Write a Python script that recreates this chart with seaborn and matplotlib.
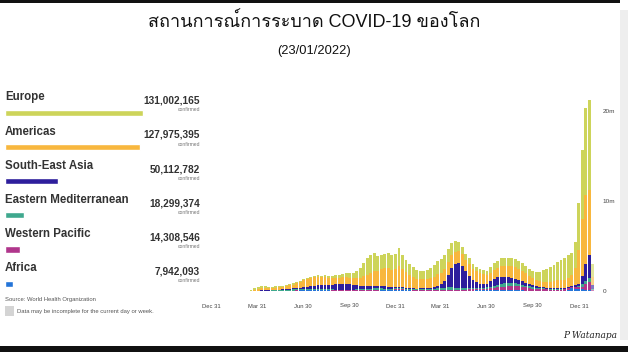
import numpy as np
import pandas as pd
import matplotlib
matplotlib.use("Agg")
import matplotlib.pyplot as plt
from matplotlib import font_manager, ft2font
from matplotlib.patches import Rectangle
import seaborn as sns

# weekly confirmed cases per WHO region (thousands), weeks starting Mon 2019-12-30
europe = [0, 0, 0, 0, 0, 0, 0, 0, 1, 5, 25, 75, 170, 230,
          235, 225, 200, 170, 150, 135, 125, 120, 120, 125, 130, 135, 135,
          135, 140, 150, 165, 180, 200, 220, 240, 280, 320, 380, 440, 500,
          600, 800, 1050, 1450, 1800, 2000, 1950, 1700, 1550, 1600, 1700, 1600, 1650,
          1950, 1550, 1300, 1150, 1050, 950, 900, 950, 1050, 1150, 1300, 1450, 1500,
          1500, 1450, 1350, 1250, 1050, 850, 700, 600, 500, 420, 380, 380, 450,
          600, 750, 850, 850, 850, 880, 900, 950, 920, 880, 830, 800, 820,
          900, 1050, 1250, 1450, 1650, 1850, 2050, 2300, 2400, 2450, 2500, 2900, 5300,
          7600, 9700, 9950, 1400]
americas = [0, 0, 0, 0, 0, 0, 0, 0, 0, 0.3, 2, 20, 85, 190,
            230, 220, 220, 230, 240, 250, 290, 320, 380, 430, 520, 650, 780,
            850, 920, 950, 930, 880, 860, 800, 760, 740, 700, 720, 730, 740,
            760, 800, 880, 1050, 1250, 1450, 1650, 1650, 1850, 2000, 2100, 1900, 2000,
            2400, 2100, 1800, 1500, 1300, 1100, 1000, 1000, 1000, 1050, 1150, 1250, 1250,
            1300, 1400, 1400, 1350, 1300, 1250, 1250, 1300, 1200, 1250, 1200, 1150, 1000,
            950, 950, 1000, 1200, 1250, 1300, 1300, 1300, 1200, 1150, 1050, 900, 800,
            700, 650, 620, 620, 650, 750, 850, 850, 900, 1050, 1150, 1900, 3700,
            6400, 7600, 7300, 900]
se_asia = [0, 0, 0, 0, 0, 0, 0, 0, 0, 0.1, 0.3, 1, 3, 6,
           12, 18, 22, 30, 40, 50, 60, 75, 90, 105, 120, 150, 180,
           220, 270, 340, 400, 440, 480, 500, 540, 580, 630, 660, 620, 570,
           520, 460, 410, 360, 340, 310, 300, 290, 270, 240, 200, 170, 150,
           130, 120, 110, 100, 100, 95, 100, 110, 120, 140, 200, 300, 450,
           800, 1400, 2200, 2600, 2750, 2500, 1900, 1400, 950, 650, 500, 420, 390,
           600, 800, 850, 800, 700, 600, 500, 450, 430, 400, 330, 280, 230,
           180, 150, 130, 120, 110, 105, 100, 95, 95, 95, 100, 150, 300,
           900, 1900, 2500, 400]
east_med = [0, 0, 0, 0, 0, 0, 0, 0, 0.1, 1, 5, 8, 15, 22,
            26, 30, 38, 45, 55, 65, 80, 95, 110, 125, 135, 130, 120,
            115, 110, 105, 95, 85, 80, 78, 80, 85, 88, 90, 92, 95,
            100, 110, 125, 140, 155, 170, 180, 175, 160, 140, 125, 110, 100,
            95, 90, 85, 85, 90, 95, 105, 120, 135, 150, 170, 195, 220,
            250, 270, 270, 250, 220, 180, 150, 140, 130, 125, 125, 135, 150,
            180, 220, 280, 330, 380, 400, 390, 350, 300, 250, 210, 180, 150,
            130, 110, 100, 90, 80, 75, 72, 70, 70, 70, 75, 85, 130,
            230, 380, 450, 80]
west_pac = [0, 0.05, 0.1, 2, 14, 25, 22, 6, 3, 2, 3, 5, 9, 12,
            13, 11, 7, 5, 5, 6, 6, 6, 7, 8, 10, 12, 15,
            18, 22, 28, 35, 40, 42, 40, 36, 33, 32, 30, 28, 27,
            28, 30, 32, 35, 38, 42, 50, 55, 58, 62, 68, 70, 72,
            80, 78, 70, 60, 50, 42, 38, 40, 42, 45, 50, 60, 70,
            80, 90, 95, 100, 110, 120, 130, 135, 120, 110, 105, 110, 130,
            160, 200, 260, 310, 360, 410, 450, 470, 450, 400, 340, 280, 230,
            200, 170, 160, 150, 140, 140, 140, 135, 130, 130, 125, 130, 170,
            320, 600, 900, 150]
africa = [0, 0, 0, 0, 0, 0, 0, 0, 0, 0.05, 0.3, 1, 3, 5,
          6, 8, 10, 13, 16, 20, 24, 28, 35, 45, 55, 65, 75,
          90, 100, 110, 105, 90, 75, 65, 55, 48, 42, 38, 35, 32,
          32, 33, 35, 38, 40, 45, 50, 55, 60, 70, 80, 95, 110,
          115, 110, 90, 70, 55, 45, 40, 35, 33, 32, 32, 32, 32,
          32, 30, 30, 30, 30, 32, 35, 42, 55, 70, 90, 120, 145,
          160, 155, 145, 130, 120, 110, 100, 90, 80, 70, 55, 45, 38,
          30, 25, 22, 20, 18, 17, 16, 20, 50, 150, 280, 270, 230,
          180, 140, 100, 15]

regions = ["Europe", "Americas", "South-East Asia", "Eastern Mediterranean",
           "Western Pacific", "Africa"]
totals = [131002165, 127975395, 50112782, 18299374, 14308546, 7942093]
colors = ["#cdd45a", "#f8b73e", "#2e1e9c", "#3fa88e", "#b0368c", "#2474d8"]
tick_dates = ["2019-12-31", "2020-03-31", "2020-06-30", "2020-09-30", "2020-12-31",
              "2021-03-31", "2021-06-30", "2021-09-30", "2021-12-31"]
tick_labels = ["Dec 31", "Mar 31", "Jun 30", "Sep 30", "Dec 31",
               "Mar 31", "Jun 30", "Sep 30", "Dec 31"]

series = [europe, americas, se_asia, east_med, west_pac, africa]
ref = pd.Timestamp("2019-12-31")
weeks = pd.date_range("2019-12-30", periods=len(europe), freq="7D")
week_start = [float(d) for d in (weeks - ref).days]
rows = []
for name, vals in zip(regions, series):
    for d, v in zip(week_start, vals):
        rows.append({"day": d + 3.5, "cases": v, "region": name})
df = pd.DataFrame(rows)

sns.set_style("white")
thai = None
for f in font_manager.fontManager.ttflist:
    try:
        if 0x0E2A in ft2font.FT2Font(f.fname).get_charmap():
            thai = f.name
            break
    except Exception:
        pass
plt.rcParams["font.family"] = ["Liberation Sans", "DejaVu Sans"]
title_fam = ["Liberation Sans"] + ([thai] if thai else []) + ["DejaVu Sans"]

fig = plt.figure(figsize=(6.28, 3.52), dpi=100)
fig.patch.set_facecolor("white")

# main stacked weekly bars
ax = fig.add_axes([205 / 628, 61 / 352, 392 / 628, 198 / 352])
sns.histplot(data=df, x="day", weights="cases", hue="region", hue_order=regions,
             palette=colors, multiple="stack", binwidth=7,
             binrange=(week_start[0], week_start[-1] + 7), shrink=0.82,
             alpha=1, linewidth=0, legend=False, ax=ax)
# current (incomplete) week drawn lighter
for p in ax.patches:
    if p.get_x() > week_start[-1] - 1:
        p.set_alpha(0.6)
ax.set_xlim(-12, 767)
ax.set_ylim(0, 22000)
ax.set_xlabel("")
ax.set_ylabel("")
ticks_x = [(pd.Timestamp(t) - ref).days for t in tick_dates]
ax.set_xticks(ticks_x)
ax.set_xticklabels(tick_labels)
ax.yaxis.tick_right()
ax.set_yticks([0, 10000, 20000])
ax.set_yticklabels(["0", "10m", "20m"])
ax.tick_params(axis="x", length=0, pad=9, labelsize=4.2, labelcolor="#444444")
ax.tick_params(axis="y", length=0, pad=4, labelsize=4.6, labelcolor="#444444")
for s in ax.spines.values():
    s.set_visible(False)
ax.grid(False)

# left legend panel with totals
lax = fig.add_axes([5 / 628, 51.2 / 352, 195 / 628, 205.2 / 352])
sns.barplot(x=totals, y=regions, hue=regions, palette=colors, width=0.18,
            legend=False, orient="h", ax=lax, saturation=1)
xmax = totals[0] * 195 / 138
lax.set_xlim(0, xmax)
lax.set_ylim(5.5, -0.5)
lax.axis("off")
for i, (name, tot) in enumerate(zip(regions, totals)):
    lax.text(0, i - 0.45, name, ha="left", va="center", fontsize=8.3,
             fontweight="bold", color="#333333")
    lax.text(xmax, i - 0.35, f"{tot:,}", ha="right", va="center", fontsize=7.3,
             fontweight="bold", color="#333333")
    lax.text(xmax, i - 0.08, "confirmed", ha="right", va="center", fontsize=3.6,
             color="#777777")

# titles
fig.text(0.5, 1 - 22 / 352, "สถานการณ์การระบาด COVID-19 ของโลก", ha="center",
         va="center", fontsize=13, family=title_fam, color="#111111")
fig.text(0.5, 1 - 51 / 352, "(23/01/2022)", ha="center", va="center",
         fontsize=9.3, color="#111111")

# source notes
fig.text(5 / 628, 1 - 300 / 352, "Source: World Health Organization",
         ha="left", va="center", fontsize=4.2, color="#555555")
fig.add_artist(Rectangle((5 / 628, 36 / 352), 9 / 628, 10 / 352,
                         transform=fig.transFigure, color="#d4d4d4", lw=0))
fig.text(17 / 628, 1 - 311 / 352,
         "Data may be incomplete for the current day or week.",
         ha="left", va="center", fontsize=4.2, color="#555555")

# frame decorations
fig.add_artist(Rectangle((620 / 628, 12 / 352), 8 / 628, 330 / 352,
                         transform=fig.transFigure, color="#eeeeee", lw=0))
fig.add_artist(Rectangle((0, 349 / 352), 620 / 628, 3 / 352,
                         transform=fig.transFigure, color="#111111", lw=0))
fig.add_artist(Rectangle((0, 0), 1, 6 / 352,
                         transform=fig.transFigure, color="#111111", lw=0))
fig.text(590 / 628, 1 - 336 / 352, "P Watanapa", ha="center", va="center",
         fontsize=6.5, family="DejaVu Serif", style="italic", color="#222222")

fig.savefig("out.png", dpi=100)
